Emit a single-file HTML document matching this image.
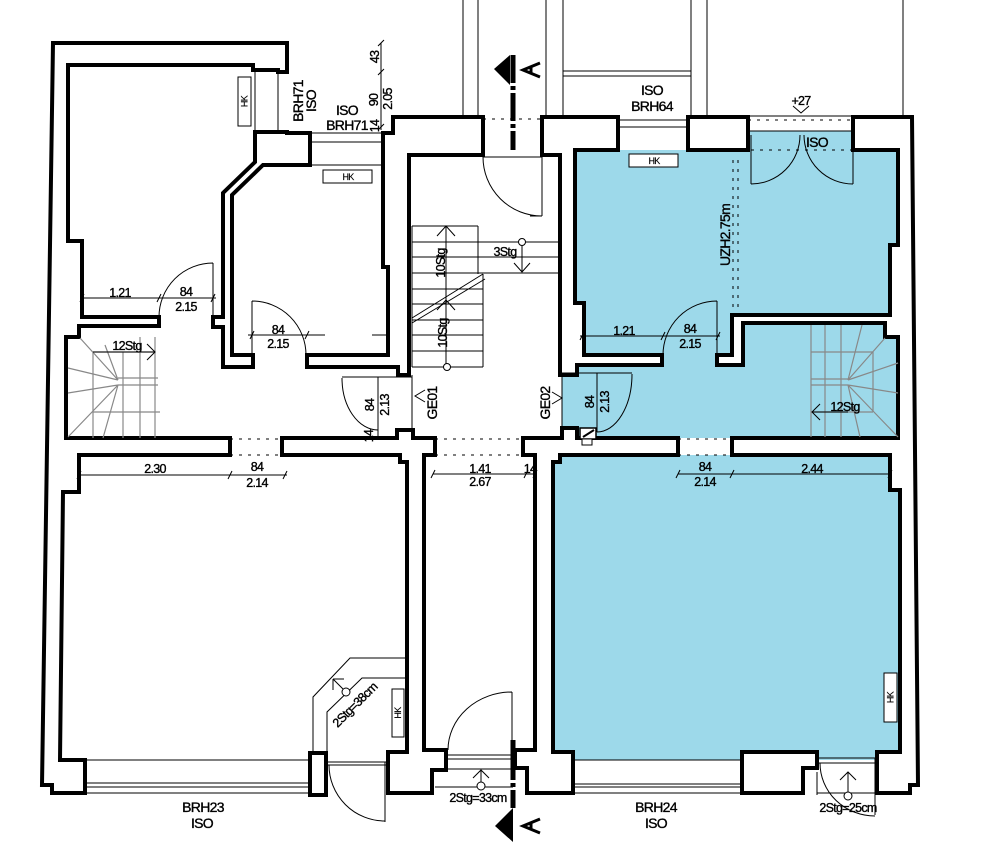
<!DOCTYPE html>
<html><head><meta charset="utf-8"><style>
html,body{margin:0;padding:0;background:#fff;}
svg{display:block;}
text{font-family:"Liberation Sans",sans-serif;fill:#000;stroke:#000;stroke-width:0.35px;letter-spacing:-0.7px;}
.t{font-size:14px;text-anchor:middle;}
.s{font-size:12.5px;text-anchor:middle;}
.hk{font-size:9px;text-anchor:middle;stroke-width:0.15px;}
</style></head><body>
<svg width="984" height="850" viewBox="0 0 984 850" xmlns="http://www.w3.org/2000/svg">
<rect width="984" height="850" fill="#fff"/>

<!-- blue fills -->
<polygon points="575,150 748,150 748,131 853,131 853,150 898,150 898,438 562,438 562,375 575,375" fill="#9dd9ea"/>
<rect x="553" y="455" width="347" height="305" fill="#9dd9ea"/>

<!-- top exterior lines -->
<g stroke="#000" stroke-width="1" fill="none">
<path d="M463,0V117M478,0V117M546,0V117M563,0V117M691,0V117M707,0V117M903,0V117"/>
<path d="M563,71H691M563,76H691"/>
<path d="M748,116H853M748,131H853"/>
<path d="M618,120H688M618,127H688"/>
<path d="M255,72V132M278,72V132"/>
<path d="M310,133H383M310,142H383M310,165H383"/>
</g>
<g stroke="#000" stroke-width="1" fill="none" stroke-dasharray="3,6">
<path d="M483,119H542M748,120H853M751,150H853"/>
<path d="M230,439H282M230,455H282M435,439H523M435,455H523M678,439H732M678,455H732"/>
<path d="M733,160V307M738,160V307"/>
</g>

<!-- walls -->
<g fill="#fff" stroke="#000" stroke-width="4" stroke-linejoin="miter">
<polygon points="53,43 287,43 287,72 278,72 278,70 253,70 253,65 68,65 68,241 82,241 82,317 159,317 159,326 79,326 79,337 66,337 66,438 230,438 230,455 79,455 79,492 63,492 60,760 85,760 85,793 52,793 52,785 42,785"/>
<polygon points="255,132 287,132 287,133 310,133 310,165 263,165 232,195 232,355 253,355 253,367 223,367 223,327 213,327 213,317 223,317 223,193 255,162"/>
<polygon points="383,133 393,133 393,117 483,117 483,155 409,155 409,375 398,375 398,367 307,367 307,355 388,355 388,267 383,267"/>
<polygon points="282,438 397,438 397,430 413,430 413,438 435,438 435,455 424,455 424,750 446,750 446,770 432,770 432,793 388,793 388,752 407,752 407,462 400,462 400,455 282,455"/>
<polygon points="310,753 326,753 326,795 310,795"/>
<polygon points="542,117 618,117 618,150 575,150 575,303 584,303 584,355 662,355 662,365 577,365 577,375 560,375 560,155 542,155"/>
<polygon points="688,117 748,117 748,150 688,150"/>
<polygon points="853,117 912,117 918,785 910,785 910,793 877,793 877,752 900,752 900,490 890,490 890,455 732,455 732,438 898,438 898,337 885,337 885,323 743,323 743,365 717,365 717,355 732,355 732,315 890,315 890,245 898,245 898,150 853,150"/>
<polygon points="523,438 562,438 562,428 577,428 577,438 678,438 678,455 560,455 560,462 553,462 553,752 573,752 573,793 527,793 527,768 515,768 515,750 535,750 535,455 523,455"/>
<polygon points="742,752 817,752 817,768 803,768 803,793 742,793"/>
</g>

<!-- thin details -->
<g stroke="#000" stroke-width="1" fill="none">
<path d="M751,135V184M853,135V184"/>
<path d="M751,184A49,49 0 0 0 800,135M853,184A49,49 0 0 1 804,135"/>
<path d="M793,106L801,113L809,106"/>
<path d="M483,157A59,59 0 0 0 542,216M542,157V216M530,216H542M483,157H542"/>
<path d="M213,263V317M159,317A54,54 0 0 1 213,263"/>
<path d="M252,301V355M252,301A54,54 0 0 1 306,355"/>
<path d="M717,301V355M663,355A54,54 0 0 1 717,301"/>
<path d="M412,375V430M378,377V440M342,377H412M342,378A36,52 0 0 0 378,430"/>
<path d="M562,375V428M562,373H632M597,373V432M632,374A35,58 0 0 1 597,432"/>
<path d="M425,390L415,396L425,402M552,392L562,398L552,404"/>
<rect x="580" y="428" width="16" height="11" fill="#fff" stroke-width="1.5"/>
<path d="M583,437L594,430" stroke-width="2"/>
<rect x="582" y="439" width="10" height="6" fill="#fff"/>
<path d="M82,298H216M80,302L84,294M157,302L161,294M211,302L215,294"/>
<path d="M248,335H325M372,335H390M250,339L254,331M305,339L309,331"/>
<path d="M580,336H720M580,340L584,332M661,340L665,332M716,340L720,332"/>
<path d="M79,475H287M77,479L81,471M228,479L232,471M283,479L287,471"/>
<path d="M433,474H537M431,478L435,470M524,478L528,470M533,478L537,470"/>
<path d="M678,474H892M676,478L680,470M730,478L734,470M888,478L892,470"/>
<path d="M381,43V130M378,46L384,40M378,75L384,69M378,130L384,124"/>
<path d="M85,760H310M85,783H310M85,787H310M85,793H310"/>
<path d="M326,762H388M326,765H388M385,762V822M329,765A56,56 0 0 0 385,821"/>
<path d="M313,752V697L350,658H407M327,760V712L362,678H407"/>
<path d="M343,689L333,679M333,679V690M333,679H344"/>
<path d="M447,755H513M447,759H513M430,769H513M435,787H513"/>
<path d="M448,750A64,58 0 0 1 512,692M512,692V750"/>
<path d="M481,782V770M473,778L481,770L489,778"/>
<path d="M573,760H742M573,784H742M573,787H742M573,793H742"/>
<path d="M818,758H877M818,763H877M817,772V795M817,793H877M875,758V815M820,763A55,53 0 0 0 875,816"/>
<path d="M848,792V772M840,780L848,772L856,780"/>
</g>
<circle cx="346" cy="692" r="4" fill="#fff" stroke="#000" stroke-width="1"/>
<circle cx="481" cy="786" r="4" fill="#fff" stroke="#000" stroke-width="1"/>
<circle cx="848" cy="796" r="4" fill="#fff" stroke="#000" stroke-width="1"/>

<!-- hall stairs -->
<g stroke="#000" stroke-width="1" fill="none">
<path d="M412,226H478M412,242H560M412,257H560M412,273H560M412,289H483M412,304H483M412,320H483M412,335H483M412,351H483M412,367H483"/>
<path d="M478,226V274M483,274V367M412,226V367"/>
<path d="M412,318L483,274M412,323L485,279"/>
<path d="M446,226V364M437,236L446,226L455,236M437,310L446,300L455,310"/>
<path d="M522,246V272M514,263L522,272L530,263"/>
</g>
<circle cx="522" cy="242" r="3.5" fill="#fff" stroke="#000" stroke-width="1"/>
<circle cx="447" cy="367" r="3.5" fill="#fff" stroke="#000" stroke-width="1"/>

<!-- left stair -->
<g stroke="#888" stroke-width="1.2" fill="none">
<path d="M93,352V438M123,352V438M140,337V438M155,337V438"/>
<path d="M93,352H155M118,378H158M118,385H158M93,412H160"/>
<path d="M118,380L80,338M118,380L68,368M118,385L68,393M118,385L68,437M118,385L103,438M118,380L105,345"/>
</g>
<path d="M93,352H155M147,344L155,352L147,360" stroke="#000" stroke-width="1" fill="none"/>
<!-- right stair -->
<g stroke="#888" stroke-width="1.2" fill="none">
<path d="M811,325V437M825,325V437M841,325V437M873,352V412"/>
<path d="M811,352H873M811,379H848M811,385H848M811,412H873"/>
<path d="M848,380L862,325M848,380L885,338M848,380L898,363M848,385L898,393M848,385L898,437M848,385L860,437"/>
</g>
<path d="M812,412H848M820,404L812,412L820,420" stroke="#000" stroke-width="1" fill="none"/>

<!-- HK boxes -->
<g fill="#fff" stroke="#000" stroke-width="1">
<rect x="238" y="77" width="13" height="49"/>
<rect x="323" y="170" width="49" height="13"/>
<rect x="629" y="154" width="49" height="13"/>
<rect x="392" y="689" width="12" height="48"/>
<rect x="884" y="673" width="13" height="49"/>
</g>
<text class="hk" x="348" y="180">HK</text>
<text class="hk" x="654" y="164">HK</text>
<text class="hk" transform="rotate(-90 244.5 101.5)" x="244.5" y="104.5">HK</text>
<text class="hk" transform="rotate(-90 398 713)" x="398" y="716">HK</text>
<text class="hk" transform="rotate(-90 890.5 697.5)" x="890.5" y="700.5">HK</text>

<!-- entry markers -->
<path d="M513,55V150" stroke="#000" stroke-width="5" stroke-dasharray="28,3,4,3"/>
<polygon points="510,55 494,69 510,85" fill="#000"/>
<path d="M540,63L523,70L540,77M531,66V74" stroke="#000" stroke-width="3" fill="none"/>
<path d="M513,740V808" stroke="#000" stroke-width="5" stroke-dasharray="40,3,4,3"/>
<polygon points="513,808 495,826 513,842" fill="#000"/>
<path d="M540,819L523,826L540,833M531,822V830" stroke="#000" stroke-width="3" fill="none"/>

<!-- labels -->
<text class="t" x="347" y="115">ISO</text>
<text class="t" x="347" y="130">BRH71</text>
<text class="t" transform="rotate(-90 298 101)" x="298" y="106">BRH71</text>
<text class="t" transform="rotate(-90 311 101)" x="311" y="106">ISO</text>
<text class="s" transform="rotate(-90 375 57)" x="375" y="61">43</text>
<text class="s" transform="rotate(-90 374 100)" x="374" y="104">90</text>
<text class="s" transform="rotate(-90 388 99)" x="388" y="103">2.05</text>
<text class="s" transform="rotate(-90 375 126)" x="375" y="130">14</text>
<text class="t" x="652" y="95">ISO</text>
<text class="t" x="652" y="111">BRH64</text>
<text class="s" x="801" y="105">+27</text>
<text class="t" x="817" y="147">ISO</text>
<text class="t" transform="rotate(-90 725 235)" x="725" y="240">UZH2.75m</text>
<text class="s" x="505" y="256">3Stg</text>
<text class="s" transform="rotate(-90 441 263)" x="441" y="267">10Stg</text>
<text class="s" transform="rotate(-90 443 333)" x="443" y="337">10Stg</text>
<text class="s" x="120" y="297">1.21</text>
<text class="s" x="186" y="296">84</text>
<text class="s" x="186" y="311">2.15</text>
<text class="s" x="278" y="334">84</text>
<text class="s" x="278" y="348">2.15</text>
<text class="s" x="624" y="335">1.21</text>
<text class="s" x="690" y="333">84</text>
<text class="s" x="690" y="348">2.15</text>
<text class="s" x="127" y="350">12Stg</text>
<text class="s" x="845" y="411">12Stg</text>
<text class="t" transform="rotate(-90 432 403)" x="432" y="408">GE01</text>
<text class="t" transform="rotate(-90 545 403)" x="545" y="408">GE02</text>
<text class="s" transform="rotate(-90 370 405)" x="370" y="409">84</text>
<text class="s" transform="rotate(-90 385 405)" x="385" y="409">2.13</text>
<text class="s" transform="rotate(-90 369 436)" x="369" y="440">14</text>
<text class="s" transform="rotate(-90 590 402)" x="590" y="406">84</text>
<text class="s" transform="rotate(-90 605 402)" x="605" y="406">2.13</text>
<text class="s" x="155" y="473">2.30</text>
<text class="s" x="257" y="471">84</text>
<text class="s" x="257" y="487">2.14</text>
<text class="s" x="480" y="473">1.41</text>
<text class="s" x="480" y="486">2.67</text>
<text class="s" x="530" y="473">14</text>
<text class="s" x="705" y="471">84</text>
<text class="s" x="705" y="486">2.14</text>
<text class="s" x="812" y="473">2.44</text>
<text class="s" transform="rotate(-45 355 705)" x="355" y="709">2Stg=38cm</text>
<text class="t" x="203" y="812">BRH23</text>
<text class="t" x="202" y="828">ISO</text>
<text class="t" x="656" y="812">BRH24</text>
<text class="t" x="656" y="828">ISO</text>
<text class="s" x="478" y="802">2Stg=33cm</text>
<text class="s" x="848" y="812">2Stg=25cm</text>
</svg>
</body></html>
